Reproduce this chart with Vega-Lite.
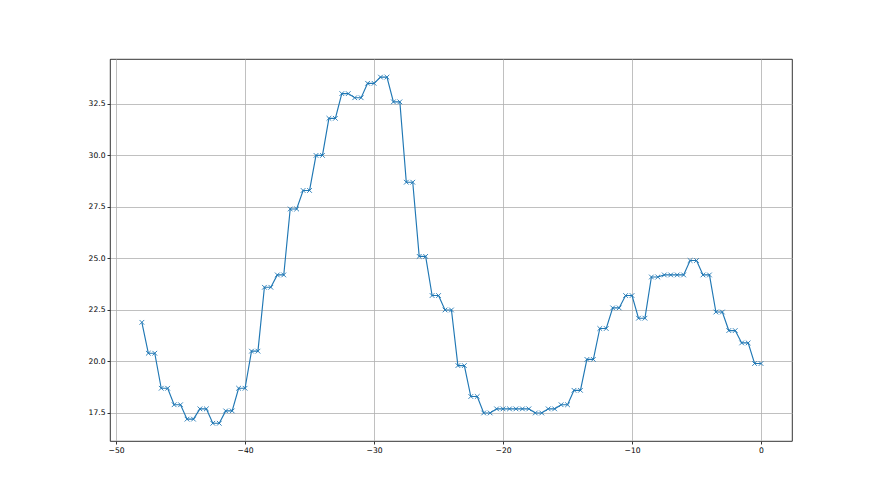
{
  "$schema": "https://vega.github.io/schema/vega-lite/v6.json",
  "width": 682,
  "height": 382,
  "autosize": {"type": "none"},
  "padding": {"left": 110, "top": 59, "right": 88, "bottom": 54},
  "background": "white",
  "config": {
    "view": {"stroke": "#000000", "strokeWidth": 0.8},
    "axis": {
      "labelFont": "DejaVu Sans",
      "labelFontSize": 7.6,
      "labelColor": "#000000",
      "tickColor": "#000000",
      "tickSize": 3,
      "tickWidth": 0.8,
      "labelPadding": 2,
      "domain": false,
      "grid": true,
      "gridColor": "#b0b0b0",
      "gridWidth": 0.8,
      "title": null
    }
  },
  "data": {
    "values": [
      {"x": -48, "y": 21.9},
      {"x": -47.5, "y": 20.4}, {"x": -47, "y": 20.4},
      {"x": -46.5, "y": 18.7}, {"x": -46, "y": 18.7},
      {"x": -45.5, "y": 17.9}, {"x": -45, "y": 17.9},
      {"x": -44.5, "y": 17.2}, {"x": -44, "y": 17.2},
      {"x": -43.5, "y": 17.7}, {"x": -43, "y": 17.7},
      {"x": -42.5, "y": 17.0}, {"x": -42, "y": 17.0},
      {"x": -41.5, "y": 17.6}, {"x": -41, "y": 17.6},
      {"x": -40.5, "y": 18.7}, {"x": -40, "y": 18.7},
      {"x": -39.5, "y": 20.5}, {"x": -39, "y": 20.5},
      {"x": -38.5, "y": 23.6}, {"x": -38, "y": 23.6},
      {"x": -37.5, "y": 24.2}, {"x": -37, "y": 24.2},
      {"x": -36.5, "y": 27.4}, {"x": -36, "y": 27.4},
      {"x": -35.5, "y": 28.3}, {"x": -35, "y": 28.3},
      {"x": -34.5, "y": 30.0}, {"x": -34, "y": 30.0},
      {"x": -33.5, "y": 31.8}, {"x": -33, "y": 31.8},
      {"x": -32.5, "y": 33.0}, {"x": -32, "y": 33.0},
      {"x": -31.5, "y": 32.8}, {"x": -31, "y": 32.8},
      {"x": -30.5, "y": 33.5}, {"x": -30, "y": 33.5},
      {"x": -29.5, "y": 33.8}, {"x": -29, "y": 33.8},
      {"x": -28.5, "y": 32.6}, {"x": -28, "y": 32.6},
      {"x": -27.5, "y": 28.7}, {"x": -27, "y": 28.7},
      {"x": -26.5, "y": 25.1}, {"x": -26, "y": 25.1},
      {"x": -25.5, "y": 23.2}, {"x": -25, "y": 23.2},
      {"x": -24.5, "y": 22.5}, {"x": -24, "y": 22.5},
      {"x": -23.5, "y": 19.8}, {"x": -23, "y": 19.8},
      {"x": -22.5, "y": 18.3}, {"x": -22, "y": 18.3},
      {"x": -21.5, "y": 17.5}, {"x": -21, "y": 17.5},
      {"x": -20.5, "y": 17.7}, {"x": -20, "y": 17.7},
      {"x": -19.5, "y": 17.7}, {"x": -19, "y": 17.7},
      {"x": -18.5, "y": 17.7}, {"x": -18, "y": 17.7},
      {"x": -17.5, "y": 17.5}, {"x": -17, "y": 17.5},
      {"x": -16.5, "y": 17.7}, {"x": -16, "y": 17.7},
      {"x": -15.5, "y": 17.9}, {"x": -15, "y": 17.9},
      {"x": -14.5, "y": 18.6}, {"x": -14, "y": 18.6},
      {"x": -13.5, "y": 20.1}, {"x": -13, "y": 20.1},
      {"x": -12.5, "y": 21.6}, {"x": -12, "y": 21.6},
      {"x": -11.5, "y": 22.6}, {"x": -11, "y": 22.6},
      {"x": -10.5, "y": 23.2}, {"x": -10, "y": 23.2},
      {"x": -9.5, "y": 22.1}, {"x": -9, "y": 22.1},
      {"x": -8.5, "y": 24.1}, {"x": -8, "y": 24.1},
      {"x": -7.5, "y": 24.2}, {"x": -7, "y": 24.2},
      {"x": -6.5, "y": 24.2}, {"x": -6, "y": 24.2},
      {"x": -5.5, "y": 24.9}, {"x": -5, "y": 24.9},
      {"x": -4.5, "y": 24.2}, {"x": -4, "y": 24.2},
      {"x": -3.5, "y": 22.4}, {"x": -3, "y": 22.4},
      {"x": -2.5, "y": 21.5}, {"x": -2, "y": 21.5},
      {"x": -1.5, "y": 20.9}, {"x": -1, "y": 20.9},
      {"x": -0.5, "y": 19.9}, {"x": 0, "y": 19.9}
    ]
  },
  "encoding": {
    "x": {
      "field": "x",
      "type": "quantitative",
      "scale": {"domain": [-50.47, 2.4], "nice": false, "zero": false},
      "axis": {"values": [-50, -40, -30, -20, -10, 0], "format": "d"}
    },
    "y": {
      "field": "y",
      "type": "quantitative",
      "scale": {"domain": [16.14, 34.68], "nice": false, "zero": false},
      "axis": {"values": [17.5, 20, 22.5, 25, 27.5, 30, 32.5], "format": ".1f"}
    }
  },
  "layer": [
    {
      "mark": {"type": "line", "color": "#1f77b4", "strokeWidth": 1.15, "clip": true}
    },
    {
      "mark": {
        "type": "point",
        "shape": "M-1,-1L1,1M-1,1L1,-1",
        "filled": false,
        "color": "#1f77b4",
        "strokeWidth": 0.9,
        "size": 22,
        "opacity": 1
      }
    }
  ]
}
